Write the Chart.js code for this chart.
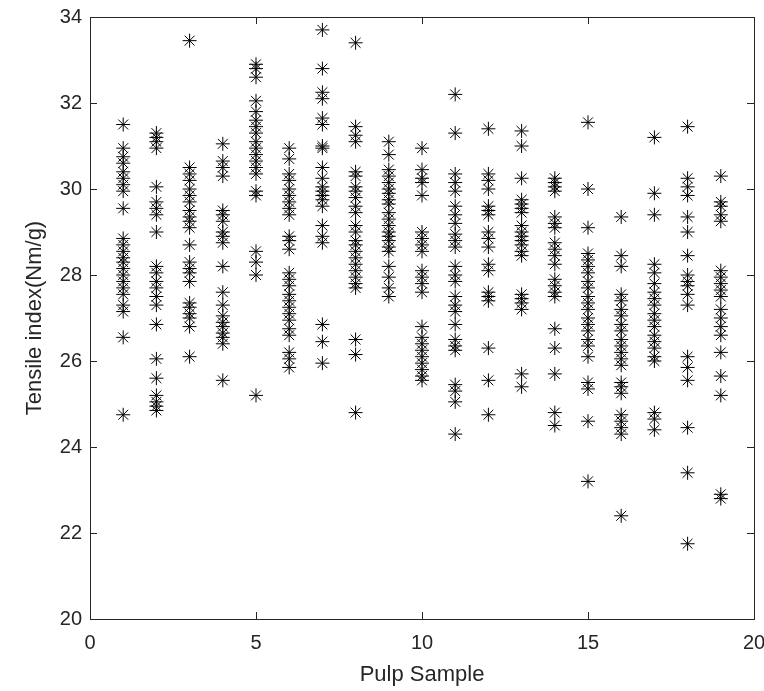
<!DOCTYPE html>
<html>
<head>
<meta charset="utf-8">
<script src="https://cdn.jsdelivr.net/npm/chart.js@4.4.1/dist/chart.umd.min.js"></script>
<style>
  html, body { margin: 0; padding: 0; background: #fff; }
  #wrap { width: 764px; height: 691px; }
</style>
</head>
<body>
<div id="wrap"><canvas id="chart" width="764" height="691"></canvas></div>
<script>
// tensile index readings per pulp sample (x = 1..19)
const samples = [1, 2, 3, 4, 5, 6, 7, 8, 9, 10, 11, 12, 13, 14, 15, 16, 17, 18, 19];

const s1 = [31.5, 30.95, 30.75, 30.6, 30.4, 30.25, 30.1, 29.95, 29.55, 28.85, 28.7, 28.55, 28.4, 28.3, 28.15, 28.0, 27.85, 27.7, 27.55, 27.3, 27.15, 26.55, 24.75];
const s2 = [31.3, 31.2, 31.1, 30.95, 30.05, 29.7, 29.55, 29.4, 29.0, 28.2, 28.05, 27.85, 27.7, 27.5, 27.3, 26.85, 26.05, 25.6, 25.2, 25.05, 24.95, 24.85];
const s3 = [33.45, 30.5, 30.35, 30.2, 30.0, 29.85, 29.7, 29.5, 29.35, 29.25, 29.1, 28.7, 28.3, 28.15, 28.05, 27.85, 27.35, 27.25, 27.1, 27.0, 26.8, 26.1];
const s4 = [31.05, 30.65, 30.5, 30.3, 29.5, 29.4, 29.25, 29.0, 28.9, 28.75, 28.2, 27.6, 27.3, 27.05, 26.9, 26.8, 26.65, 26.55, 26.4, 25.55];
const s5 = [32.9, 32.8, 32.6, 32.05, 31.8, 31.6, 31.45, 31.3, 31.1, 30.95, 30.8, 30.65, 30.5, 30.35, 29.95, 29.85, 28.55, 28.3, 28.0, 25.2];
const s6 = [30.95, 30.7, 30.35, 30.2, 30.0, 29.85, 29.7, 29.55, 29.4, 28.9, 28.8, 28.6, 28.05, 27.9, 27.75, 27.55, 27.4, 27.25, 27.1, 26.95, 26.75, 26.6, 26.2, 26.05, 25.85];
const s7 = [33.7, 32.8, 32.25, 32.1, 31.65, 31.5, 31.0, 30.95, 30.5, 30.25, 30.05, 29.95, 29.85, 29.75, 29.6, 29.15, 28.9, 28.75, 26.85, 26.45, 25.95];
const s8 = [33.4, 31.45, 31.25, 31.1, 30.4, 30.3, 30.05, 29.95, 29.8, 29.6, 29.45, 29.15, 29.0, 28.8, 28.7, 28.55, 28.4, 28.25, 28.1, 27.95, 27.8, 27.7, 26.5, 26.15, 24.8];
const s9 = [31.1, 30.8, 30.45, 30.3, 30.15, 30.0, 29.9, 29.75, 29.65, 29.45, 29.3, 29.15, 29.0, 28.9, 28.8, 28.65, 28.55, 28.2, 27.95, 27.7, 27.5];
const s10 = [30.95, 30.45, 30.25, 30.15, 29.85, 29.0, 28.85, 28.7, 28.55, 28.1, 27.95, 27.8, 27.6, 26.8, 26.55, 26.4, 26.25, 26.1, 25.95, 25.8, 25.65, 25.55];
const s11 = [32.2, 31.3, 30.35, 30.15, 29.95, 29.6, 29.4, 29.2, 28.95, 28.8, 28.65, 28.2, 28.0, 27.85, 27.5, 27.3, 27.15, 26.85, 26.5, 26.35, 26.25, 25.45, 25.3, 25.05, 24.3];
const s12 = [31.4, 30.35, 30.2, 30.0, 29.6, 29.5, 29.4, 29.0, 28.85, 28.65, 28.25, 28.1, 27.6, 27.5, 27.4, 26.3, 25.55, 24.75];
const s13 = [31.35, 31.0, 30.25, 29.75, 29.65, 29.55, 29.45, 29.15, 29.0, 28.9, 28.8, 28.7, 28.55, 28.45, 27.55, 27.45, 27.35, 27.2, 25.7, 25.4];
const s14 = [30.25, 30.15, 30.05, 29.95, 29.35, 29.2, 29.1, 28.75, 28.6, 28.45, 28.25, 27.9, 27.75, 27.6, 27.5, 26.75, 26.3, 25.7, 24.8, 24.5];
const s15 = [31.55, 30.0, 29.1, 28.5, 28.35, 28.2, 28.05, 27.85, 27.7, 27.5, 27.35, 27.2, 27.0, 26.85, 26.7, 26.5, 26.35, 26.1, 25.5, 25.35, 24.6, 23.2];
const s16 = [29.35, 28.45, 28.2, 27.55, 27.4, 27.2, 27.05, 26.85, 26.7, 26.5, 26.35, 26.2, 26.05, 25.9, 25.5, 25.4, 25.25, 24.75, 24.6, 24.45, 24.3, 22.4];
const s17 = [31.2, 29.9, 29.4, 28.25, 28.05, 27.8, 27.6, 27.45, 27.3, 27.1, 26.95, 26.8, 26.6, 26.45, 26.3, 26.1, 26.0, 24.8, 24.65, 24.4];
const s18 = [31.45, 30.25, 30.05, 29.85, 29.35, 29.0, 28.45, 28.0, 27.85, 27.75, 27.55, 27.3, 26.1, 25.85, 25.55, 24.45, 23.4, 21.75];
const s19 = [30.3, 29.7, 29.6, 29.4, 29.25, 28.1, 27.95, 27.8, 27.65, 27.5, 27.2, 27.0, 26.8, 26.6, 26.2, 25.65, 25.2, 22.9, 22.8];

const readings = [s1, s2, s3, s4, s5, s6, s7, s8, s9, s10, s11, s12, s13, s14, s15, s16, s17, s18, s19];

const xTicks = [0, 5, 10, 15, 20];
const yTicks = [20, 22, 24, 26, 28, 30, 32, 34];

const points = [];
samples.forEach((s, i) => {
    readings[i].forEach(v => points.push({ x: s, y: v }));
});

const axisColor = '#262626';
const tickFont = { family: 'Liberation Sans, Arial, sans-serif', size: 20 };
const labelFont = { family: 'Liberation Sans, Arial, sans-serif', size: 22 };

// matlab style box with inward ticks on all four sides
const boxTicks = {
    id: 'boxTicks',
    afterDraw(chart) {
        const { ctx, chartArea: a, scales } = chart;
        const len = 7;
        ctx.save();
        ctx.strokeStyle = axisColor;
        ctx.lineWidth = 1;
        ctx.beginPath();
        xTicks.forEach(v => {
            const px = Math.round(scales.x.getPixelForValue(v)) + 0.5;
            ctx.moveTo(px, a.bottom); ctx.lineTo(px, a.bottom - len);
            ctx.moveTo(px, a.top); ctx.lineTo(px, a.top + len);
        });
        yTicks.forEach(v => {
            const py = Math.round(scales.y.getPixelForValue(v)) + 0.5;
            ctx.moveTo(a.left, py); ctx.lineTo(a.left + len, py);
            ctx.moveTo(a.right, py); ctx.lineTo(a.right - len, py);
        });
        ctx.stroke();
        ctx.strokeRect(Math.round(a.left) + 0.5, Math.round(a.top) + 0.5,
            Math.round(a.right - a.left), Math.round(a.bottom - a.top));
        ctx.restore();
    }
};

new Chart(document.getElementById('chart'), {
    type: 'scatter',
    data: {
        datasets: [{
            data: points,
            pointStyle: 'star',
            pointRadius: 7,
            pointBorderColor: '#000',
            pointBackgroundColor: '#000',
            pointBorderWidth: 1
        }]
    },
    options: {
        responsive: false,
        animation: false,
        layout: { padding: { top: 17, right: 10, left: 0, bottom: 0 } },
        plugins: { legend: { display: false }, tooltip: { enabled: false } },
        scales: {
            x: {
                min: 0, max: 20,
                afterBuildTicks: (s) => { s.ticks = xTicks.map(v => ({ value: v })); },
                afterFit: (s) => { s.height = 72; s.paddingLeft = 0; s.paddingRight = 0; },
                grid: { display: false, drawTicks: false },
                border: { display: false },
                ticks: { color: axisColor, font: tickFont, padding: 12, maxRotation: 0 },
                title: { display: true, text: 'Pulp Sample', color: axisColor, font: labelFont, padding: { top: 0, bottom: 3 } }
            },
            y: {
                min: 20, max: 34,
                afterBuildTicks: (s) => { s.ticks = yTicks.map(v => ({ value: v })); },
                afterFit: (s) => { s.width = 90; s.paddingTop = 0; s.paddingBottom = 0; },
                grid: { display: false, drawTicks: false },
                border: { display: false },
                ticks: { color: axisColor, font: tickFont, padding: 8 },
                title: { display: true, text: 'Tensile index(Nm/g)', color: axisColor, font: labelFont, padding: { top: 22, bottom: 0 } }
            }
        }
    },
    plugins: [boxTicks]
});
</script>
</body>
</html>
